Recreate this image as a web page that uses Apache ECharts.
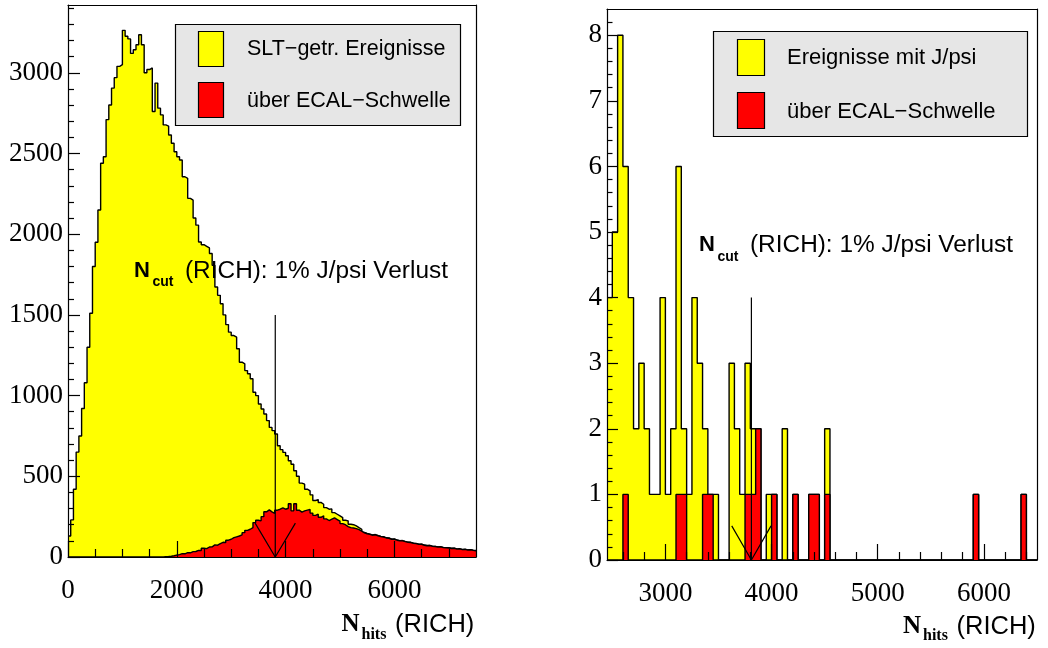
<!DOCTYPE html>
<html><head><meta charset="utf-8">
<script src="https://cdn.jsdelivr.net/npm/echarts@6/dist/echarts.min.js"></script>
<style>html,body{margin:0;padding:0;background:#fff}#c{width:1048px;height:648px}</style>
</head><body><div id="c"></div>
<script>
// ---------- data: left panel (SLT-triggered events) ----------
const leftBinWidth = 50;
const leftRange = [0, 7500];
const sltEvents = [
 130,230,420,650,750,920,1080,1300,1510,1800,
 1950,2150,2440,2480,2710,2800,2905,2970,3040,3050,
 3263,3226,3210,3120,3143,3174,3236,3174,3000,3020,
 3030,2760,2936,2781,2739,2677,2670,2615,2563,2511,
 2480,2460,2356,2346,2222,2211,2100,2056,1952,1935,
 1925,1915,1880,1807,1673,1621,1569,1500,1440,1393,
 1372,1362,1290,1207,1197,1155,1135,1104,1021,1000,
 948,917,886,845,803,783,762,689,665,648,
 627,596,575,534,500,458,451,420,410,385,
 350,356,338,327,306,296,298,275,265,255,
 244,228,224,203,200,193,182,172,152,146,
 142,137,139,133,128,126,119,118,111,112,
 105,101,102,96,92,91,86,84,79,80,
 74,71,72,67,66,63,64,59,58,57,
 54,55,50,51,47,48,44,46,42,40];
const sltAboveEcal = [
 0,0,0,0,0,0,0,0,0,0,
 0,0,0,0,0,0,0,0,0,0,
 0,0,0,0,0,0,0,0,0,0,
 0,0,0,0,0,2,3,5,8,12,
 15,21,20,27,26,33,34,41,40,54,
 52,62,63,75,73,83,91,90,104,110,
 120,125,130,137,151,165,172,182,213,228,
 224,250,280,292,280,270,290,296,304,296,
 302,330,286,330,290,278,286,290,294,272,
 258,265,246,255,236,226,234,242,232,222,
 207,200,188,182,180,176,170,160,150,144,
 140,135,137,131,127,124,118,116,110,110,
 104,100,100,95,91,90,85,83,78,79,
 73,70,71,66,65,62,63,58,57,56,
 53,54,49,50,46,47,43,45,41,39];
const leftXTicks = [0, 2000, 4000, 6000];
const leftXMinor = [500,1000,1500,2500,3000,3500,4500,5000,5500,6500,7000];
const leftYTicks = [0, 500, 1000, 1500, 2000, 2500, 3000];
const leftYMinor = [100,200,300,400,600,700,800,900,1100,1200,1300,1400,1600,1700,1800,1900,
  2100,2200,2300,2400,2600,2700,2800,2900,3100,3200,3300,3400];
const leftYMax = 3420;

// ---------- data: right panel (events with J/psi) ----------
const rightBinWidth = 50;
const rightRange = [2450, 6500];
const jpsiEvents = [
 4,5,8,6,4,2,3,2,1,1,
 4,1,2,6,2,1,4,3,2,1,
 1,0,0,3,2,1,3,2,2,0,
 1,1,0,2,0,1,0,0,1,1,
 0,2,0,0,0,0,0,0,0,0,
 0,0,0,0,0,0,0,0,0,0,
 0,0,0,0,0,0,0,0,0,1,
 0,0,0,0,0,0,0,0,1,0,
 0];
const jpsiAboveEcal = [
 0,0,0,1,0,0,0,0,0,0,
 0,0,0,1,1,0,0,0,1,1,
 0,0,0,0,0,0,1,1,2,0,
 0,1,0,0,0,1,0,0,1,1,
 0,1,0,0,0,0,0,0,0,0,
 0,0,0,0,0,0,0,0,0,0,
 0,0,0,0,0,0,0,0,0,1,
 0,0,0,0,0,0,0,0,1,0,
 0];
const rightXTicks = [3000, 4000, 5000, 6000];
const rightXMinor = [2600,2800,3200,3400,3600,3800,4200,4400,4600,4800,5200,5400,5600,5800,6200,6400];
const rightYTicks = [0,1,2,3,4,5,6,7,8];
const rightYMinor = [0.2,0.4,0.6,0.8,1.2,1.4,1.6,1.8,2.2,2.4,2.6,2.8,3.2,3.4,3.6,3.8,
  4.2,4.4,4.6,4.8,5.2,5.4,5.6,5.8,6.2,6.4,6.6,6.8,7.2,7.4,7.6,7.8,8.2];
const rightYMax = 8.4;

// cut marker (N_cut) : value, line top, arrow half width, arrow height
const cutValue = 3810;
const leftCut = [1500, 370, 210];
const rightCut = [4, 185, 0.52];

// ---------- helpers ----------
function histPoints(min, width, vals) {
  const pts = vals.map((v, i) => [min + i * width, v]);
  pts.push([min + vals.length * width, vals[vals.length - 1]]);
  return pts;
}
const BLACK = '#000';
const plain = v => String(v);
function xAxes(g, range, majors, minors, majorLen, minorLen) {
  return [
    {gridIndex: g, type: 'value', min: range[0], max: range[1], position: 'bottom', z: 10,
     axisLine: {show: true, onZero: false, lineStyle: {color: BLACK, width: 1.2}},
     axisTick: {show: true, inside: true, length: majorLen, customValues: majors, lineStyle: {color: BLACK, width: 1.2}},
     axisLabel: {show: true, customValues: majors, formatter: plain, margin: 20, color: BLACK, fontFamily: 'Liberation Serif', fontSize: 27},
     splitLine: {show: false}},
    {gridIndex: g, type: 'value', min: range[0], max: range[1], position: 'bottom', z: 10,
     axisLine: {show: false, onZero: false},
     axisTick: {show: true, inside: true, length: minorLen, customValues: minors, lineStyle: {color: BLACK, width: 1.2}},
     axisLabel: {show: false}, splitLine: {show: false}},
    {gridIndex: g, type: 'value', min: range[0], max: range[1], position: 'top', z: 10,
     axisLine: {show: true, onZero: false, lineStyle: {color: BLACK, width: 1.2}},
     axisTick: {show: false}, axisLabel: {show: false}, splitLine: {show: false}}
  ];
}
function yAxes(g, max, majors, minors, majorLen, minorLen) {
  return [
    {gridIndex: g, type: 'value', min: 0, max: max, position: 'left', z: 10,
     axisLine: {show: true, onZero: false, lineStyle: {color: BLACK, width: 1.2}},
     axisTick: {show: true, inside: true, length: majorLen, customValues: majors, lineStyle: {color: BLACK, width: 1.2}},
     axisLabel: {show: true, customValues: majors, formatter: plain, margin: 5, color: BLACK, fontFamily: 'Liberation Serif', fontSize: 27},
     splitLine: {show: false}},
    {gridIndex: g, type: 'value', min: 0, max: max, position: 'left', z: 10,
     axisLine: {show: false, onZero: false},
     axisTick: {show: true, inside: true, length: minorLen, customValues: minors, lineStyle: {color: BLACK, width: 1.2}},
     axisLabel: {show: false}, splitLine: {show: false}},
    {gridIndex: g, type: 'value', min: 0, max: max, position: 'right', z: 10,
     axisLine: {show: true, onZero: false, lineStyle: {color: BLACK, width: 1.2}},
     axisTick: {show: false}, axisLabel: {show: false}, splitLine: {show: false}}
  ];
}
function histSeries(name, xi, yi, pts, fill, z) {
  return {name: name, type: 'line', xAxisIndex: xi, yAxisIndex: yi, data: pts, step: 'end',
    symbol: 'none', silent: true, animation: false, z: z,
    lineStyle: {color: BLACK, width: 1.4}, itemStyle: {color: fill},
    areaStyle: {color: fill, opacity: 1}};
}
function lineSeries(xi, yi, pts) {
  return {type: 'line', xAxisIndex: xi, yAxisIndex: yi, data: pts, symbol: 'none', silent: true,
    animation: false, z: 5, lineStyle: {color: BLACK, width: 1.2}};
}

const chart = echarts.init(document.getElementById('c'), null, {renderer: 'canvas'});

const SANS = '"Liberation Sans", Arial, sans-serif';
const SERIF = '"Liberation Serif", "Times New Roman", serif';
function txt(text, x, y, font) {
  return {type: 'text', z: 20, style: {text: text, x: x, y: y, font: font, fill: BLACK, align: 'left', verticalAlign: 'middle'}};
}
function box(x, y, w, h, fill) {
  return {type: 'rect', z: 18, shape: {x: x, y: y, width: w, height: h}, style: {fill: fill, stroke: BLACK, lineWidth: 1.2}};
}

const graphics = [
  // left legend
  box(175.5, 24.5, 285, 101, '#e6e6e6'),
  box(198.5, 31.5, 25, 35, '#ffff00'),
  box(198.5, 82.5, 25, 35, '#ff0000'),
  txt('SLT\u2212getr. Ereignisse', 247, 49, '21.5px ' + SANS),
  txt('\u00fcber ECAL\u2212Schwelle', 247, 101, '21.5px ' + SANS),
  // right legend
  box(713.5, 31.5, 314, 105, '#e6e6e6'),
  box(737.5, 39.5, 27, 36, '#ffff00'),
  box(737.5, 92.5, 27, 36, '#ff0000'),
  txt('Ereignisse mit J/psi', 787, 58, '22px ' + SANS),
  txt('\u00fcber ECAL\u2212Schwelle', 787, 112, '22px ' + SANS),
  // left annotation
  txt('N', 134, 271, 'bold 22px ' + SANS),
  txt('cut', 152.5, 282.5, 'bold 14px ' + SANS),
  txt('(RICH): 1% J/psi Verlust', 185, 271, '24.4px ' + SANS),
  // right annotation
  txt('N', 699, 245, 'bold 22px ' + SANS),
  txt('cut', 717.5, 257.5, 'bold 14px ' + SANS),
  txt('(RICH): 1% J/psi Verlust', 750, 245, '24.4px ' + SANS),
  // axis titles
  txt('N', 341.5, 625, 'bold 25px ' + SERIF),
  txt('hits', 361.5, 635, 'bold 16px ' + SERIF),
  txt('(RICH)', 395, 625, '25.5px ' + SANS),
  txt('N', 903, 627, 'bold 25px ' + SERIF),
  txt('hits', 923, 636, 'bold 16px ' + SERIF),
  txt('(RICH)', 956.5, 627, '25.5px ' + SANS)
];

const option = {
  backgroundColor: '#ffffff',
  animation: false,
  grid: [
    {left: 68, top: 5, width: 408, height: 552, show: false},
    {left: 607, top: 9, width: 430, height: 551, show: false}
  ],
  xAxis: xAxes(0, leftRange, leftXTicks, leftXMinor, 16, 8)
    .concat(xAxes(1, rightRange, rightXTicks, rightXMinor, 16, 8)),
  yAxis: yAxes(0, leftYMax, leftYTicks, leftYMinor, 12, 6)
    .concat(yAxes(1, rightYMax, rightYTicks, rightYMinor, 11, 5.5)),
  series: [
    histSeries('SLT\u2212getr. Ereignisse', 0, 0, histPoints(leftRange[0], leftBinWidth, sltEvents), '#ffff00', 2),
    histSeries('\u00fcber ECAL\u2212Schwelle', 0, 0, histPoints(leftRange[0], leftBinWidth, sltAboveEcal), '#ff0000', 3),
    lineSeries(0, 0, [[cutValue, 0], [cutValue, leftCut[0]]]),
    lineSeries(0, 0, [[cutValue - leftCut[1], leftCut[2]], [cutValue, 0], [cutValue + leftCut[1], leftCut[2]]]),
    histSeries('Ereignisse mit J/psi', 3, 3, histPoints(rightRange[0], rightBinWidth, jpsiEvents), '#ffff00', 2),
    histSeries('\u00fcber ECAL\u2212Schwelle (J/psi)', 3, 3, histPoints(rightRange[0], rightBinWidth, jpsiAboveEcal), '#ff0000', 3),
    lineSeries(3, 3, [[cutValue, 0], [cutValue, rightCut[0]]]),
    lineSeries(3, 3, [[cutValue - rightCut[1], rightCut[2]], [cutValue, 0], [cutValue + rightCut[1], rightCut[2]]])
  ],
  graphic: graphics
};
chart.setOption(option);
</script>
</body></html>
